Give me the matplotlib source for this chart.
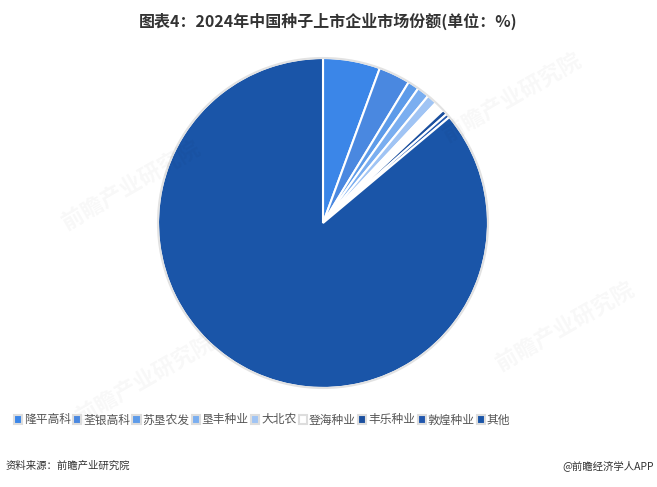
import matplotlib
matplotlib.use("Agg")
import matplotlib.pyplot as plt
from matplotlib.patches import Patch, Circle

plt.rcParams['font.family'] = ['Noto Sans CJK SC', 'DejaVu Sans']

# -------- data --------
companies = ["隆平高科", "荃银高科", "苏垦农发", "垦丰种业", "大北农",
             "登海种业", "丰乐种业", "敦煌种业", "其他"]
shares = [5.6, 3.1, 1.1, 1.2, 1.0, 1.0, 0.5, 0.4, 86.1]
colors = ["#3b86e8", "#4a88e0", "#5d9be9", "#7aaef0", "#a0c4f4",
          "#ffffff", "#1b4f9e", "#2157ad", "#1a55a8"]

W, H = 657, 487
fig = plt.figure(figsize=(W / 100, H / 100), dpi=100)

# pie centre (323, 223) px, radius 165 px
cx, cy, half = 323, 223, 170
ax = fig.add_axes([(cx - half) / W, (H - cy - half) / H, 2 * half / W, 2 * half / H])
ax.pie(shares, colors=colors, startangle=90, counterclock=False,
       wedgeprops=dict(edgecolor="white", linewidth=1.5))
ax.add_patch(Circle((0, 0), 1.0, fill=False, edgecolor="#e2e2e2", linewidth=1.5))
ax.set_xlim(-half / 165, half / 165)
ax.set_ylim(-half / 165, half / 165)
ax.set_aspect("equal")
ax.axis("off")

# faint watermarks
for (x, y) in [(0.2, 0.62), (0.78, 0.8), (0.22, 0.22), (0.86, 0.33)]:
    fig.text(x, y, "前瞻产业研究院", fontsize=16, color="#000000", alpha=0.03,
             rotation=30, ha="center", va="center", fontweight="bold")

fig.text(328 / W, 1 - 21 / H, "图表4：2024年中国种子上市企业市场份额(单位：%)",
         ha="center", va="center", fontsize=11.5, fontweight="bold", color="#333333")

handles = [Patch(facecolor=c, edgecolor="#dddddd", linewidth=1.5) for c in colors]
fig.legend(handles, companies, loc="center", bbox_to_anchor=(262 / W, 1 - 420 / H),
           ncol=len(companies), frameon=False, fontsize=8.5, handlelength=0.7,
           handleheight=0.7, handletextpad=0.15, columnspacing=0.2,
           labelcolor="#555555")

fig.text(6 / W, 1 - 466 / H, "资料来源：前瞻产业研究院", ha="left", va="center",
         fontsize=7.5, color="#333333")
fig.text(654 / W, 1 - 466 / H, "@前瞻经济学人APP", ha="right", va="center",
         fontsize=7.5, color="#333333")

fig.savefig("out.png", dpi=100)
